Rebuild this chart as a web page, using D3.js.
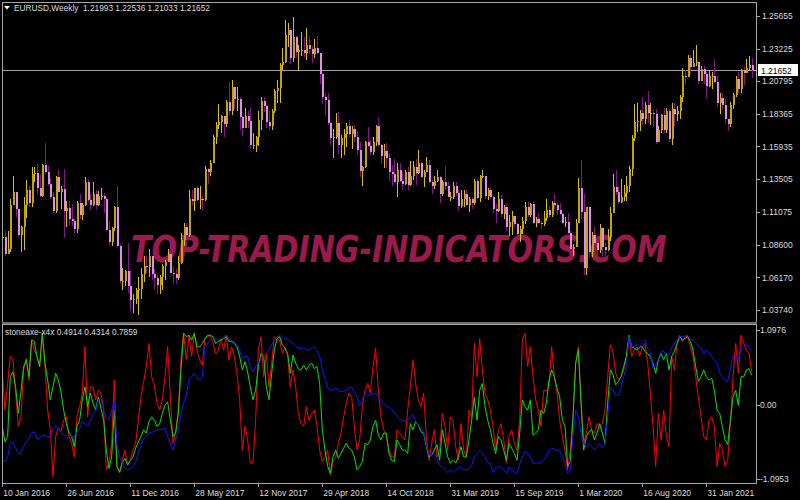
<!DOCTYPE html>
<html><head><meta charset="utf-8">
<script src="https://cdn.jsdelivr.net/npm/d3@7"></script>
<style>html,body{margin:0;padding:0;background:#000;overflow:hidden}svg{display:block}</style>
</head><body>
<svg id="c" width="800" height="500"></svg>
<script>
const symbolTitle = "EURUSD,Weekly  1.21993 1.22536 1.21033 1.21652";
const indTitle = "stoneaxe-x4x 0.4914 0.4314 0.7859";
const watermark = "TOP-TRADING-INDICATORS.COM";
const lastPrice = 1.21652;
const priceTicks = [1.25655,1.23225,1.20795,1.18365,1.15935,1.13505,1.11075,1.08600,1.06170,1.03740];
const priceTickLabels = ["1.25655","1.23225","1.20795","1.18365","1.15935","1.13505","1.11075","1.08600","1.06170","1.03740"];
const indTicks = [1.0976, 0.00, -1.0953];
const indTickLabels = ["1.0976","0.00","-1.0953"];
const dateLabels = ["10 Jan 2016","26 Jun 2016","11 Dec 2016","28 May 2017","12 Nov 2017","29 Apr 2018","14 Oct 2018","31 Mar 2019","15 Sep 2019","1 Mar 2020","16 Aug 2020","31 Jan 2021"];
const dateLabelIdx = [0,24,48,72,96,120,144,168,192,216,240,264];

const closes = [
1.0915,1.0795,1.0830,1.1155,1.1255,1.1130,1.0935,1.0995,1.1155,1.1270,
1.1170,1.1390,1.1395,1.1285,1.1225,1.1455,1.1400,1.1310,1.1220,1.1115,
1.1365,1.1255,1.1275,1.1115,1.1135,1.1050,1.1035,1.0975,1.1175,1.1085,
1.1160,1.1325,1.1195,1.1155,1.1235,1.1155,1.1225,1.1225,1.1200,1.0970,
1.0880,1.0985,1.1145,1.0850,1.0590,1.0590,1.0665,1.0555,1.0450,1.0455,
1.0520,1.0530,1.0645,1.0700,1.0695,1.0780,1.0640,1.0615,1.0560,1.0620,
1.0700,1.0735,1.0795,1.0650,1.0640,1.0615,1.0725,1.0895,1.0995,1.0930,
1.1205,1.1185,1.1280,1.1195,1.1200,1.1195,1.1425,1.1400,1.1470,1.1665,
1.1750,1.1775,1.1820,1.1760,1.1925,1.1860,1.2035,1.1945,1.1950,1.1815,
1.1730,1.1820,1.1785,1.1605,1.1605,1.1665,1.1790,1.1935,1.1895,1.1775,
1.1745,1.1860,1.2005,1.2030,1.2200,1.2220,1.2425,1.2460,1.2250,1.2410,
1.2295,1.2310,1.2310,1.2290,1.2350,1.2320,1.2280,1.2330,1.2290,1.2130,
1.1960,1.1940,1.1770,1.1655,1.1660,1.1770,1.1605,1.1655,1.1685,1.1745,
1.1685,1.1720,1.1660,1.1565,1.1410,1.1440,1.1625,1.1600,1.1550,1.1625,
1.1745,1.1605,1.1525,1.1560,1.1510,1.1400,1.1385,1.1330,1.1415,1.1335,
1.1315,1.1405,1.1305,1.1370,1.1440,1.1395,1.1470,1.1365,1.1405,1.1455,
1.1325,1.1295,1.1335,1.1365,1.1235,1.1325,1.1300,1.1215,1.1215,1.1295,
1.1245,1.1150,1.1200,1.1235,1.1160,1.1205,1.1170,1.1335,1.1210,1.1370,
1.1370,1.1225,1.1270,1.1220,1.1125,1.1110,1.1200,1.1090,1.1140,1.0990,
1.1030,1.1075,1.1015,1.0940,1.0980,1.1040,1.1145,1.1080,1.1165,1.1020,
1.1050,1.1020,1.1015,1.1060,1.1120,1.1080,1.1175,1.1160,1.1120,1.1090,
1.1025,1.1030,1.0945,1.0830,1.0845,1.1025,1.1285,1.1105,1.0690,1.1140,
1.0805,1.0935,1.0875,1.0820,1.0985,1.0840,1.0820,1.0920,1.1100,1.1290,
1.1255,1.1180,1.1220,1.1245,1.1300,1.1425,1.1655,1.1775,1.1785,1.1840,
1.1795,1.1905,1.1840,1.1845,1.1835,1.1630,1.1715,1.1830,1.1715,1.1860,
1.1645,1.1875,1.1835,1.1855,1.1965,1.2120,1.2110,1.2255,1.2185,1.2215,
1.2220,1.2080,1.2170,1.2135,1.2045,1.2120,1.2120,1.2075,1.1915,1.1955,
1.1905,1.1795,1.1760,1.1900,1.1980,1.2095,1.2020,1.2165,1.2140,1.2180,
1.2199,1.21652];

const opens = [
1.0920,1.0915,1.0795,1.0830,1.1155,1.1255,1.1130,1.0935,1.0995,1.1155,
1.1270,1.1170,1.1390,1.1395,1.1285,1.1225,1.1455,1.1400,1.1310,1.1220,
1.1115,1.1365,1.1255,1.1275,1.1115,1.1135,1.1050,1.1035,1.0975,1.1175,
1.1085,1.1160,1.1325,1.1195,1.1155,1.1235,1.1155,1.1225,1.1225,1.1200,
1.0970,1.0880,1.0985,1.1145,1.0850,1.0590,1.0590,1.0665,1.0555,1.0450,
1.0455,1.0520,1.0530,1.0645,1.0700,1.0695,1.0780,1.0640,1.0615,1.0560,
1.0620,1.0700,1.0735,1.0795,1.0650,1.0640,1.0615,1.0725,1.0895,1.0995,
1.0930,1.1205,1.1185,1.1280,1.1195,1.1200,1.1195,1.1425,1.1400,1.1470,
1.1665,1.1750,1.1775,1.1820,1.1760,1.1925,1.1860,1.2035,1.1945,1.1950,
1.1815,1.1730,1.1820,1.1785,1.1605,1.1605,1.1665,1.1790,1.1935,1.1895,
1.1775,1.1745,1.1860,1.2005,1.2030,1.2200,1.2220,1.2425,1.2460,1.2250,
1.2410,1.2295,1.2310,1.2310,1.2290,1.2350,1.2320,1.2280,1.2330,1.2290,
1.2130,1.1960,1.1940,1.1770,1.1655,1.1660,1.1770,1.1605,1.1655,1.1685,
1.1745,1.1685,1.1720,1.1660,1.1565,1.1410,1.1440,1.1625,1.1600,1.1550,
1.1625,1.1745,1.1605,1.1525,1.1560,1.1510,1.1400,1.1385,1.1330,1.1415,
1.1335,1.1315,1.1405,1.1305,1.1370,1.1440,1.1395,1.1470,1.1365,1.1405,
1.1455,1.1325,1.1295,1.1335,1.1365,1.1235,1.1325,1.1300,1.1215,1.1215,
1.1295,1.1245,1.1150,1.1200,1.1235,1.1160,1.1205,1.1170,1.1335,1.1210,
1.1370,1.1370,1.1225,1.1270,1.1220,1.1125,1.1110,1.1200,1.1090,1.1140,
1.0990,1.1030,1.1075,1.1015,1.0940,1.0980,1.1040,1.1145,1.1080,1.1165,
1.1020,1.1050,1.1020,1.1015,1.1060,1.1120,1.1080,1.1175,1.1160,1.1120,
1.1090,1.1025,1.1030,1.0945,1.0830,1.0845,1.1025,1.1285,1.1105,1.0690,
1.1140,1.0805,1.0935,1.0875,1.0820,1.0985,1.0840,1.0820,1.0920,1.1100,
1.1290,1.1255,1.1180,1.1220,1.1245,1.1300,1.1425,1.1655,1.1775,1.1785,
1.1840,1.1795,1.1905,1.1840,1.1845,1.1835,1.1630,1.1715,1.1830,1.1715,
1.1860,1.1645,1.1875,1.1835,1.1855,1.1965,1.2120,1.2110,1.2255,1.2185,
1.2215,1.2220,1.2080,1.2170,1.2135,1.2045,1.2120,1.2120,1.2075,1.1915,
1.1955,1.1905,1.1795,1.1760,1.1900,1.1980,1.2095,1.2020,1.2165,1.2140,
1.2180,1.21993];

const highs = [
1.0990,1.0960,1.0960,1.1200,1.1375,1.1255,1.1130,1.1000,1.1220,1.1340,
1.1300,1.1440,1.1440,1.1465,1.1390,1.1460,1.1616,1.1445,1.1350,1.1250,
1.1375,1.1415,1.1300,1.1425,1.1185,1.1185,1.1165,1.1055,1.1185,1.1235,
1.1170,1.1365,1.1340,1.1235,1.1325,1.1265,1.1260,1.1280,1.1245,1.1210,
1.1040,1.0990,1.1150,1.1300,1.0865,1.0690,1.0670,1.0875,1.0670,1.0490,
1.0540,1.0620,1.0685,1.0775,1.0775,1.0830,1.0780,1.0680,1.0635,1.0635,
1.0715,1.0750,1.0825,1.0905,1.0705,1.0680,1.0780,1.0945,1.1020,1.1020,
1.1265,1.1270,1.1285,1.1295,1.1295,1.1225,1.1445,1.1435,1.1490,1.1680,
1.1775,1.1910,1.1825,1.1820,1.1940,1.2070,1.2090,1.2035,1.2035,1.1960,
1.1820,1.1880,1.1860,1.1880,1.1690,1.1670,1.1860,1.1960,1.1960,1.1900,
1.1860,1.1875,1.2025,1.2090,1.2215,1.2325,1.2535,1.2515,1.2475,1.2555,
1.2415,1.2350,1.2445,1.2410,1.2475,1.2420,1.2340,1.2395,1.2415,1.2290,
1.2140,1.1995,1.1995,1.1775,1.1720,1.1840,1.1850,1.1675,1.1720,1.1765,
1.1790,1.1745,1.1750,1.1705,1.1625,1.1445,1.1635,1.1735,1.1640,1.1660,
1.1750,1.1815,1.1610,1.1610,1.1620,1.1545,1.1455,1.1500,1.1470,1.1470,
1.1400,1.1420,1.1440,1.1485,1.1485,1.1500,1.1570,1.1480,1.1415,1.1515,
1.1490,1.1345,1.1370,1.1420,1.1375,1.1345,1.1450,1.1330,1.1255,1.1325,
1.1325,1.1265,1.1265,1.1265,1.1265,1.1215,1.1220,1.1350,1.1350,1.1380,
1.1415,1.1370,1.1285,1.1285,1.1225,1.1165,1.1250,1.1230,1.1160,1.1165,
1.1085,1.1110,1.1075,1.1025,1.0999,1.1065,1.1180,1.1180,1.1175,1.1180,
1.1065,1.1095,1.1040,1.1115,1.1200,1.1150,1.1185,1.1240,1.1175,1.1175,
1.1100,1.1065,1.1095,1.0960,1.0865,1.1055,1.1355,1.1495,1.1235,1.1145,
1.1145,1.0955,1.0990,1.0895,1.1015,1.0990,1.0875,1.0975,1.1145,1.1385,
1.1420,1.1295,1.1350,1.1305,1.1375,1.1450,1.1675,1.1910,1.1915,1.1865,
1.1965,1.1925,1.2010,1.1915,1.1870,1.1870,1.1745,1.1835,1.1880,1.1880,
1.1870,1.1915,1.1920,1.1895,1.1975,1.2175,1.2165,1.2275,1.2275,1.2310,
1.2350,1.2220,1.2190,1.2190,1.2150,1.2165,1.2145,1.2245,1.2115,1.1990,
1.1990,1.1945,1.1795,1.1925,1.1995,1.2115,1.2150,1.2170,1.2185,1.2245,
1.2265,1.22536];

const lows = [
1.0805,1.0780,1.0810,1.0810,1.1160,1.1070,1.0920,1.0810,1.0820,1.1060,
1.1145,1.1145,1.1325,1.1235,1.1215,1.1215,1.1385,1.1300,1.1200,1.1100,
1.1095,1.1250,1.1130,1.0910,1.0995,1.1000,1.1000,1.0950,1.0950,1.1050,
1.1045,1.1150,1.1180,1.1120,1.1150,1.1125,1.1150,1.1195,1.1100,1.0970,
1.0860,1.0850,1.0960,1.0850,1.0570,1.0520,1.0550,1.0500,1.0365,1.0350,
1.0420,1.0340,1.0455,1.0580,1.0650,1.0620,1.0600,1.0520,1.0495,1.0490,
1.0525,1.0600,1.0730,1.0650,1.0570,1.0570,1.0600,1.0720,1.0850,1.0840,
1.0920,1.1160,1.1110,1.1190,1.1130,1.1120,1.1185,1.1310,1.1370,1.1470,
1.1610,1.1725,1.1690,1.1660,1.1740,1.1825,1.1825,1.1870,1.1860,1.1715,
1.1670,1.1730,1.1730,1.1575,1.1575,1.1555,1.1595,1.1715,1.1850,1.1730,
1.1715,1.1715,1.1845,1.1915,1.1915,1.2165,1.2215,1.2335,1.2205,1.2225,
1.2260,1.2155,1.2270,1.2260,1.2240,1.2280,1.2215,1.2255,1.2285,1.2055,
1.1910,1.1820,1.1750,1.1605,1.1510,1.1645,1.1540,1.1510,1.1530,1.1590,
1.1660,1.1575,1.1625,1.1530,1.1365,1.1300,1.1430,1.1590,1.1530,1.1530,
1.1600,1.1600,1.1460,1.1430,1.1430,1.1335,1.1300,1.1320,1.1215,1.1325,
1.1270,1.1305,1.1270,1.1300,1.1340,1.1305,1.1390,1.1355,1.1290,1.1400,
1.1320,1.1235,1.1275,1.1330,1.1175,1.1225,1.1270,1.1215,1.1185,1.1205,
1.1225,1.1110,1.1135,1.1140,1.1150,1.1105,1.1130,1.1155,1.1200,1.1180,
1.1355,1.1205,1.1195,1.1200,1.1100,1.1025,1.1105,1.1065,1.1055,1.0965,
1.0925,1.0930,1.0990,1.0905,1.0880,1.0940,1.1015,1.1070,1.1070,1.1015,
1.0990,1.1015,1.0980,1.1000,1.1040,1.1065,1.1065,1.1125,1.1085,1.1080,
1.1015,1.0990,1.0945,1.0825,1.0780,1.0845,1.1020,1.1055,1.0635,1.0635,
1.0770,1.0770,1.0815,1.0725,1.0800,1.0780,1.0775,1.0815,1.0890,1.1095,
1.1230,1.1165,1.1175,1.1185,1.1185,1.1255,1.1375,1.1635,1.1700,1.1710,
1.1755,1.1760,1.1765,1.1755,1.1735,1.1610,1.1630,1.1695,1.1690,1.1690,
1.1625,1.1605,1.1745,1.1780,1.1800,1.1925,1.2060,1.2110,1.2130,1.2185,
1.2190,1.2055,1.2080,1.2060,1.1950,1.2035,1.2020,1.2065,1.1890,1.1835,
1.1875,1.1760,1.1705,1.1740,1.1875,1.1965,1.1995,1.1990,1.2050,1.2140,
1.2160,1.21033];

const redLine = [
0.48,-0.08,0.31,0.71,0.66,0.17,-0.32,-0.18,0.51,0.68,
0.36,0.95,0.80,0.71,0.56,1.05,0.56,-0.08,-0.37,-1.06,
-0.47,-0.35,-0.40,-0.23,-0.18,-0.47,-0.57,-0.77,-0.18,-0.03,
0.17,0.85,-0.18,0.26,0.26,0.07,0.21,0.17,-0.08,-0.96,
-0.86,-0.57,0.36,-0.91,-1.01,-0.82,-0.67,-0.89,-0.82,-0.67,
-0.57,-0.23,0.11,0.34,0.56,0.90,0.41,0.29,0.02,-0.08,
0.07,0.41,0.85,0.11,-0.57,-0.40,-0.08,0.66,1.05,0.66,
1.02,0.71,1.05,0.80,0.66,0.58,0.97,1.00,1.02,0.90,
0.75,0.80,0.97,0.80,1.02,0.66,0.85,0.71,0.46,0.07,
-0.67,-0.32,-0.52,-0.86,-0.86,-0.23,0.80,1.00,0.41,0.75,
0.26,0.61,1.00,0.95,0.95,0.75,0.85,0.71,0.26,0.51,
0.26,-0.13,-0.28,-0.32,-0.03,-0.23,-0.13,-0.08,-0.32,-0.67,
-0.84,-0.77,-0.67,-1.04,-0.84,-0.79,-0.57,-0.42,-0.18,0.02,
0.17,0.11,-0.32,-0.67,-0.52,-0.03,0.21,0.31,0.17,0.56,
0.83,0.21,-0.18,-0.37,-0.47,-0.67,-0.77,-0.77,-0.37,-0.42,
-0.47,-0.52,-0.08,0.26,0.66,0.31,0.07,-0.03,0.17,-0.47,
-0.82,-0.57,-0.37,-0.77,-0.67,-0.13,-0.32,-0.67,-0.18,-0.23,
-0.62,-0.82,-0.28,-0.67,-0.77,-0.08,-0.18,0.90,0.41,0.97,
0.51,0.17,0.07,-0.08,-0.32,-0.67,-0.37,-0.28,-0.52,-0.86,
-0.47,-0.37,-0.57,-0.67,-0.23,0.95,1.05,0.56,0.85,0.41,
0.07,-0.08,-0.32,0.21,0.21,0.26,0.85,0.41,0.17,-0.23,
-0.47,-0.67,-0.96,-0.67,-0.18,0.61,0.85,0.07,-0.57,-0.42,
-0.18,-0.37,-0.42,-0.28,-0.32,-0.28,-0.08,0.41,0.88,0.78,
0.46,0.36,0.41,0.51,0.71,1.00,0.71,0.80,0.85,0.71,
0.85,0.90,0.61,0.17,-0.32,-0.91,-0.13,-0.52,-0.08,-0.47,
-0.62,0.71,0.51,0.90,1.02,0.93,1.00,1.00,0.85,0.71,
0.41,0.11,-0.18,-0.47,-0.52,-0.23,-0.18,-0.32,-0.91,-0.57,
-0.67,-0.91,-0.82,-0.28,0.41,0.90,0.46,1.02,0.90,0.80,
0.75,0.4914];

const greenLine = [
-0.32,-0.55,-0.47,0.41,0.48,0.26,-0.13,0.19,0.56,0.66,
0.41,0.95,0.93,0.71,0.56,1.05,0.61,0.36,0.07,0.26,
0.46,0.36,0.19,-0.08,-0.28,-0.42,-0.47,-0.62,-0.32,-0.23,
0.07,0.26,-0.03,0.17,0.02,-0.08,0.11,-0.05,-0.23,-0.67,
-0.94,-0.77,-0.08,-0.91,-0.99,-0.86,-0.79,-0.89,-0.82,-0.77,
-0.64,-0.55,-0.47,-0.37,-0.42,-0.25,-0.18,-0.23,-0.32,-0.28,
-0.13,-0.01,0.04,-0.23,-0.47,-0.42,-0.13,0.51,1.05,1.00,
1.02,0.95,1.05,0.85,0.85,0.90,0.97,1.02,1.02,1.00,
0.90,0.93,0.95,0.97,1.00,0.93,0.93,0.90,0.85,0.71,
0.51,0.63,0.48,0.26,0.07,0.21,0.56,0.75,0.71,0.26,
0.07,0.46,0.80,0.97,1.00,0.88,0.83,0.75,0.46,0.73,
0.61,0.53,0.51,0.58,0.51,0.58,0.61,0.53,0.56,0.31,
-0.37,-0.67,-0.91,-1.01,-0.77,-0.67,-0.79,-0.72,-0.64,-0.57,
-0.64,-0.67,-0.77,-0.96,-0.91,-0.84,-0.57,-0.59,-0.52,-0.32,
-0.23,-0.45,-0.52,-0.42,-0.42,-0.72,-0.82,-0.84,-0.52,-0.59,
-0.67,-0.67,-0.72,-0.28,-0.37,-0.25,-0.30,-0.40,-0.42,-0.62,
-0.77,-0.74,-0.67,-0.59,-0.82,-0.37,-0.57,-0.77,-0.86,-0.82,
-0.86,-0.77,-0.62,-0.77,-0.77,-0.52,-0.23,0.11,-0.23,0.21,
0.31,-0.03,-0.23,-0.37,-0.57,-0.72,-0.47,-0.52,-0.67,-0.82,
-0.57,-0.64,-0.72,-0.82,-0.42,0.07,-0.03,-0.08,0.07,-0.45,
-0.42,-0.37,-0.08,-0.13,0.02,0.36,0.51,0.41,0.24,0.11,
-0.23,-0.32,-0.91,-0.84,-0.18,0.61,0.80,0.02,-0.67,-0.47,
-0.40,-0.37,-0.52,-0.42,-0.28,-0.42,-0.57,0.02,0.51,0.44,
0.29,0.34,0.41,0.56,0.71,1.02,0.85,0.83,0.80,0.85,
0.85,0.78,0.75,0.71,0.61,0.46,0.66,0.75,0.66,0.75,
0.51,0.71,0.78,0.90,1.00,0.95,0.97,1.00,0.93,0.80,
0.56,0.34,0.41,0.51,0.41,0.36,0.39,0.21,-0.08,-0.13,
-0.32,-0.52,-0.59,-0.23,0.11,0.21,-0.01,0.41,0.41,0.51,
0.53,0.4314];

const blueLine = [
-0.82,-0.84,-0.77,-0.57,-0.55,-0.64,-0.72,-0.72,-0.62,-0.55,
-0.50,-0.42,-0.40,-0.50,-0.50,-0.45,-0.46,-0.47,-0.47,-0.37,
-0.30,-0.35,-0.40,-0.45,-0.47,-0.50,-0.47,-0.47,-0.40,-0.35,
-0.25,-0.28,-0.32,-0.23,-0.15,-0.10,0.07,0.09,-0.08,-0.20,
-0.23,-0.08,0.04,-0.60,-0.77,-0.86,-0.94,-0.96,-0.94,-0.91,
-0.84,-0.72,-0.59,-0.50,-0.47,-0.42,-0.41,-0.40,-0.37,-0.37,
-0.36,-0.35,-0.47,-0.57,-0.67,-0.52,-0.37,-0.13,0.02,0.14,
0.36,0.41,0.46,0.39,0.36,0.41,0.85,0.90,0.95,1.00,
0.97,0.95,0.96,1.00,1.02,0.97,0.94,0.93,0.88,0.80,
0.68,0.71,0.71,0.56,0.48,0.56,0.61,0.66,0.71,0.75,
0.81,0.88,0.95,1.00,1.02,0.99,0.97,0.96,0.93,0.90,
0.86,0.83,0.83,0.83,0.81,0.80,0.83,0.85,0.80,0.71,
0.51,0.39,0.25,0.21,0.22,0.25,0.21,0.19,0.20,0.21,
0.24,0.26,0.19,0.11,-0.02,0.07,0.17,0.15,0.14,0.15,
0.17,0.11,0.06,0.01,-0.02,-0.04,-0.07,-0.12,-0.17,-0.22,
-0.23,-0.25,-0.23,-0.18,-0.15,-0.25,-0.31,-0.35,-0.40,-0.59,
-0.74,-0.74,-0.72,-0.79,-0.89,-0.91,-0.96,-1.00,-0.96,-1.00,
-0.96,-0.94,-0.91,-0.96,-0.96,-0.95,-0.90,-0.77,-0.72,-0.67,
-0.71,-0.77,-0.86,-0.86,-1.00,-0.94,-0.91,-0.92,-0.96,-1.01,
-0.92,-0.95,-1.00,-1.01,-0.87,-0.77,-0.69,-0.72,-0.77,-0.86,
-0.86,-0.86,-0.85,-0.82,-0.77,-0.67,-0.64,-0.66,-0.67,-0.67,
-0.77,-0.86,-1.01,-0.96,-0.47,-0.08,-0.18,-0.42,-0.57,-0.62,
-0.57,-0.62,-0.67,-0.62,-0.57,-0.64,-0.57,-0.18,0.26,0.22,
0.14,0.14,0.24,0.41,0.56,1.00,0.86,0.85,0.90,0.85,
0.91,0.95,0.83,0.78,0.53,0.58,0.68,0.78,0.79,0.71,
0.73,0.83,0.90,0.95,1.00,1.00,1.01,1.02,0.96,0.95,
0.91,0.86,0.84,0.75,0.80,0.76,0.71,0.65,0.61,0.47,
0.41,0.35,0.34,0.53,0.72,0.68,0.67,0.80,0.85,0.88,
0.86,0.7859];

// ---------------- drawing ----------------
const svg = d3.select("#c");
const FONT = "'Liberation Sans', Arial, sans-serif";
const TXT = "#dcdcdc", FRAME = "#a6a6a6";
const N = closes.length;

const x = d3.scaleLinear().domain([0, N - 1]).range([2.3, 751.7]);
const yP = d3.scaleLinear().domain([1.03740, 1.25655]).range([310, 16]);
const yI = d3.scaleLinear().domain([-1.0953, 1.0976]).range([479, 330]);

svg.append("rect").attr("width", 800).attr("height", 500).attr("fill", "#000");

const defs = svg.append("defs");
defs.append("clipPath").attr("id", "cm").append("rect").attr("x", 3).attr("y", 3).attr("width", 754).attr("height", 319);
defs.append("clipPath").attr("id", "ci").append("rect").attr("x", 3).attr("y", 325).attr("width", 754).attr("height", 158);

// watermark: natural size text, horizontally scaled to its box
const wm = svg.append("text").text(watermark)
  .attr("x", 0).attr("y", 0)
  .attr("font-family", "'DejaVu Sans', sans-serif").attr("font-weight", "bold").attr("font-style", "italic")
  .attr("font-size", 37).attr("fill", "#9b1a4b");
const wmLen = wm.node().getComputedTextLength();
wm.attr("transform", `translate(131,262) scale(${536 / wmLen},1)`);

// bid line
svg.append("line").attr("x1", 2).attr("x2", 757)
  .attr("y1", Math.round(yP(lastPrice)) + 0.5).attr("y2", Math.round(yP(lastPrice)) + 0.5)
  .attr("stroke", "#a0a4a8").attr("stroke-width", 1).attr("shape-rendering", "crispEdges");

// candles
const bars = d3.range(N).map(i => ({ i, o: opens[i], h: highs[i], l: lows[i], c: closes[i] }));
const gc = svg.append("g").attr("clip-path", "url(#cm)").attr("shape-rendering", "crispEdges");
gc.selectAll("line.w").data(bars).join("line").attr("class", "w")
  .attr("x1", d => Math.round(x(d.i)) + 0.5).attr("x2", d => Math.round(x(d.i)) + 0.5)
  .attr("y1", d => yP(d.h)).attr("y2", d => yP(d.l))
  .attr("stroke", d => d.c >= d.o ? "#dcc000" : "#87158a").attr("stroke-width", 1);
gc.selectAll("rect.b").data(bars).join("rect").attr("class", "b")
  .attr("x", d => Math.round(x(d.i)))
  .attr("y", d => yP(Math.max(d.o, d.c)))
  .attr("width", 2)
  .attr("height", d => Math.max(1, Math.abs(yP(d.o) - yP(d.c))))
  .attr("fill", d => d.c >= d.o ? "#c2a600" : "#e48de6");

// indicator lines
const gi = svg.append("g").attr("clip-path", "url(#ci)");
const mk = arr => d3.line().x((d, i) => x(i)).y(d => yI(d))(arr);
[[redLine, "#ff0000"], [greenLine, "#00e600"], [blueLine, "#1414ff"]].forEach(([arr, col]) => {
  gi.append("path").attr("d", mk(arr)).attr("fill", "none").attr("stroke", col).attr("stroke-width", 1);
});

// frames
const fr = svg.append("g").attr("fill", "none").attr("stroke", FRAME).attr("shape-rendering", "crispEdges");
fr.append("rect").attr("x", 2.5).attr("y", 2.5).attr("width", 754).attr("height", 319.5);
fr.append("rect").attr("x", 2.5).attr("y", 324.5).attr("width", 754).attr("height", 158.5);
svg.append("rect").attr("x", 2).attr("y", 322).attr("width", 755).attr("height", 2).attr("fill", "#6e6e6e");

// title texts
svg.append("path").attr("d", "M4,6 L10,6 L7,9.5 Z").attr("fill", "#ffffff");
svg.append("text").text(symbolTitle).attr("x", 14).attr("y", 11)
  .attr("font-family", FONT).attr("font-size", 8.3).attr("fill", TXT).style("white-space", "pre");
svg.append("text").text(indTitle).attr("x", 5).attr("y", 335)
  .attr("font-family", FONT).attr("font-size", 8.3).attr("fill", TXT);

// price axis
const pa = svg.append("g");
pa.selectAll("line").data(priceTicks).join("line")
  .attr("x1", 757).attr("x2", 760).attr("y1", d => Math.round(yP(d)) + 0.5).attr("y2", d => Math.round(yP(d)) + 0.5)
  .attr("stroke", FRAME).attr("shape-rendering", "crispEdges");
pa.selectAll("text").data(priceTicks).join("text")
  .attr("x", 762).attr("y", d => yP(d) + 3.2).text((d, i) => priceTickLabels[i])
  .attr("font-family", FONT).attr("font-size", 8.5).attr("fill", TXT);

// current price box
const yl = Math.round(yP(lastPrice));
svg.append("rect").attr("x", 758).attr("y", yl - 6).attr("width", 40).attr("height", 12).attr("fill", "#ffffff");
svg.append("text").text(lastPrice.toFixed(5)).attr("x", 761).attr("y", yl + 3.5)
  .attr("font-family", FONT).attr("font-size", 8.5).attr("fill", "#000");

// indicator axis
const ia = svg.append("g");
ia.selectAll("line").data(indTicks).join("line")
  .attr("x1", 757).attr("x2", 760).attr("y1", d => Math.round(yI(d)) + 0.5).attr("y2", d => Math.round(yI(d)) + 0.5)
  .attr("stroke", FRAME).attr("shape-rendering", "crispEdges");
ia.selectAll("text").data(indTicks).join("text")
  .attr("x", 760).attr("y", d => yI(d) + 3.2).text((d, i) => indTickLabels[i])
  .attr("font-family", FONT).attr("font-size", 8.5).attr("fill", TXT);

// time axis
const ta = svg.append("g");
ta.selectAll("line").data(dateLabelIdx).join("line")
  .attr("x1", d => Math.round(x(d)) + 0.5).attr("x2", d => Math.round(x(d)) + 0.5)
  .attr("y1", 483).attr("y2", 487).attr("stroke", FRAME).attr("shape-rendering", "crispEdges");
ta.selectAll("text").data(dateLabelIdx).join("text")
  .attr("x", d => x(d) + 1).attr("y", 495.5).text((d, i) => dateLabels[i])
  .attr("font-family", FONT).attr("font-size", 8.5).attr("fill", TXT);
</script>
</body></html>
